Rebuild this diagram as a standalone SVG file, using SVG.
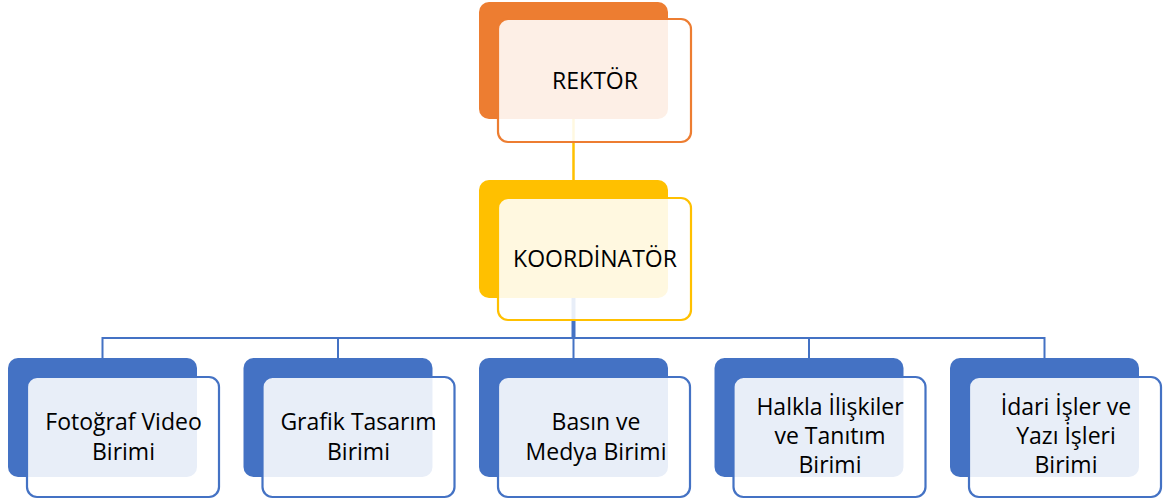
<svg xmlns="http://www.w3.org/2000/svg" width="1163" height="504" viewBox="0 0 1163 504">
<style>
.bk{stroke:none}
.fr{fill:#ffffff;fill-opacity:0.88;stroke-width:2.2}
.o .bk{fill:#ED7D31}.o .fr{stroke:#ED7D31}
.y .bk{fill:#FFC000}.y .fr{stroke:#FFC000}
.b .bk{fill:#4472C4}.b .fr{stroke:#4472C4}
text{font-family:"Open Sans","Liberation Sans",sans-serif;font-size:23px;fill:#000;text-anchor:middle}
.cn{fill:none;stroke-linejoin:miter}
</style>
<rect width="1163" height="504" fill="#ffffff"/>
<g id="connectors">
<line class="cn" x1="573.5" y1="119" x2="573.5" y2="180" stroke="#FFC000" stroke-width="2.5"/>
<line class="cn" x1="573.5" y1="298" x2="573.5" y2="338" stroke="#4472C4" stroke-width="4"/>
<path class="cn" d="M102.5 358 V338 H1044.5 V358 M338 338 V358 M573.5 338 V358 M809 338 V358" stroke="#4472C4" stroke-width="2"/>
</g>
<g id="rektor" class="o">
<rect class="bk" x="479" y="2" width="189" height="117" rx="10"/>
<rect class="fr" x="498" y="19" width="193" height="123" rx="10"/>
<text x="595" y="89">REKTÖR</text>
</g>
<g id="koordinator" class="y">
<rect class="bk" x="479" y="180" width="189" height="118" rx="10"/>
<rect class="fr" x="498" y="198" width="193" height="122" rx="10"/>
<text x="595" y="267">KOORDİNATÖR</text>
</g>
<g id="fotograf" class="b">
<rect class="bk" x="8" y="358" width="189" height="119" rx="10"/>
<rect class="fr" x="27" y="377" width="192" height="120" rx="10"/>
<text x="123.5" y="430">Fotoğraf Video</text>
<text x="123.5" y="460">Birimi</text>
</g>
<g id="grafik" class="b">
<rect class="bk" x="243.5" y="358" width="189" height="119" rx="10"/>
<rect class="fr" x="262.5" y="377" width="192" height="120" rx="10"/>
<text x="358.5" y="430">Grafik Tasarım</text>
<text x="358.5" y="460">Birimi</text>
</g>
<g id="basin" class="b">
<rect class="bk" x="479" y="358" width="189" height="119" rx="10"/>
<rect class="fr" x="498" y="377" width="192" height="120" rx="10"/>
<text x="596" y="430">Basın ve</text>
<text x="596" y="460">Medya Birimi</text>
</g>
<g id="halkla" class="b">
<rect class="bk" x="714.5" y="358" width="189" height="119" rx="10"/>
<rect class="fr" x="733.5" y="377" width="192" height="120" rx="10"/>
<text x="830" y="415">Halkla İlişkiler</text>
<text x="830" y="444">ve Tanıtım</text>
<text x="830" y="473">Birimi</text>
</g>
<g id="idari" class="b">
<rect class="bk" x="950" y="358" width="189" height="119" rx="10"/>
<rect class="fr" x="969" y="377" width="192" height="120" rx="10"/>
<text x="1066" y="415">İdari İşler ve</text>
<text x="1066" y="444">Yazı İşleri</text>
<text x="1066" y="473">Birimi</text>
</g>
</svg>
